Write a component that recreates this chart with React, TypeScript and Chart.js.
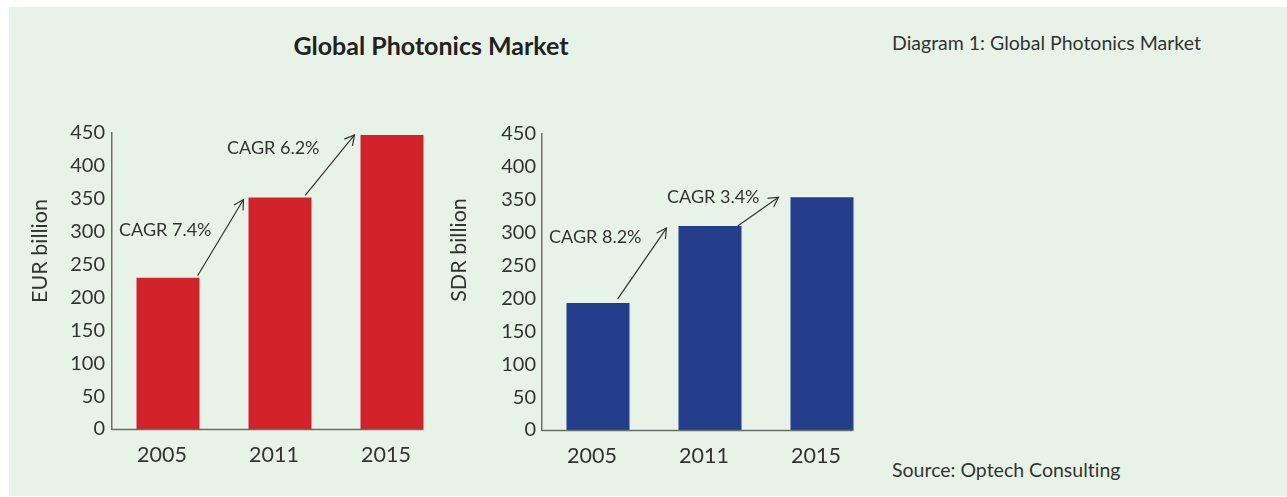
import React, { useEffect, useRef } from "react";
import { Chart, registerables } from "chart.js";

Chart.register(...registerables);

const years = ["2005", "2011", "2015"];
const eurValues = [230, 352, 447];
const sdrValues = [193, 310, 354];
const yTicks = [0, 50, 100, 150, 200, 250, 300, 350, 400, 450];
const eurCagr = ["CAGR 7.4%", "CAGR 6.2%"];
const sdrCagr = ["CAGR 8.2%", "CAGR 3.4%"];

const FONT = "Lato, 'Open Sans', sans-serif";
const TEXT = "#333333";
const AXIS = "#6d6d6d";
const BG = "#e8f3e7";

type ArrowLayout = { sf: number; sy: number; ex: number; ey: number; lx: number; ly: number };

const eurArrows: ArrowLayout[] = [
  { sf: 0.47, sy: -2, ex: -5, ey: 2, lx: -32, ly: 31 },
  { sf: 0.4, sy: -2, ex: -6, ey: 0, lx: -35, ly: 13 },
];
const sdrArrows: ArrowLayout[] = [
  { sf: 0.31, sy: -4, ex: -12, ey: 2, lx: -25, ly: 9 },
  { sf: 0.44, sy: 0, ex: -12, ey: 0, lx: -19, ly: 0 },
];

type PanelProps = {
  left: number;
  top: number;
  values: number[];
  color: string;
  yTitle: string;
  yWidth: number;
  padRight: number;
  tickPad: number;
  titleX: number;
  titleY: number;
  cagr: string[];
  arrows: ArrowLayout[];
};

function Panel(p: PanelProps) {
  const ref = useRef<HTMLCanvasElement>(null);
  useEffect(() => {
    if (!ref.current) return;
    const decor = {
      id: "decor",
      afterDatasetsDraw(chart: any) {
        const ctx = chart.ctx;
        const area = chart.chartArea;
        const bars = chart.getDatasetMeta(0).data as any[];
        const last = bars[bars.length - 1];
        ctx.save();
        ctx.strokeStyle = AXIS;
        ctx.lineWidth = 1.5;
        ctx.beginPath();
        ctx.moveTo(area.left, area.bottom + 0.5);
        ctx.lineTo(last.x + last.width / 2, area.bottom + 0.5);
        ctx.stroke();
        ctx.fillStyle = TEXT;
        ctx.font = `21.5px ${FONT}`;
        ctx.textAlign = "center";
        ctx.textBaseline = "middle";
        ctx.translate(p.titleX, p.titleY);
        ctx.rotate(-Math.PI / 2);
        ctx.fillText(p.yTitle, 0, 0);
        ctx.restore();
        ctx.save();
        ctx.strokeStyle = TEXT;
        ctx.fillStyle = TEXT;
        ctx.lineWidth = 1.2;
        p.cagr.forEach((label, i) => {
          const a = p.arrows[i];
          const b0 = bars[i];
          const b1 = bars[i + 1];
          const sx = b0.x + b0.width * a.sf;
          const sy = b0.y + a.sy;
          const ex = b1.x - b1.width / 2 + a.ex;
          const ey = b1.y + a.ey;
          ctx.beginPath();
          ctx.moveTo(sx, sy);
          ctx.lineTo(ex, ey);
          ctx.stroke();
          const ang = Math.atan2(ey - sy, ex - sx);
          const hl = 11;
          const spread = 0.5;
          ctx.beginPath();
          ctx.moveTo(ex - hl * Math.cos(ang - spread), ey - hl * Math.sin(ang - spread));
          ctx.lineTo(ex, ey);
          ctx.lineTo(ex - hl * Math.cos(ang + spread), ey - hl * Math.sin(ang + spread));
          ctx.stroke();
          ctx.font = `18px ${FONT}`;
          ctx.textAlign = "right";
          ctx.textBaseline = "middle";
          ctx.fillText(label, ex + a.lx, ey + a.ly);
        });
        ctx.restore();
      },
    };
    const chart = new Chart(ref.current, {
      type: "bar",
      data: {
        labels: years,
        datasets: [
          {
            data: p.values,
            backgroundColor: p.color,
            borderWidth: 0,
            barPercentage: 0.5625,
            categoryPercentage: 1,
          },
        ],
      },
      options: {
        responsive: false,
        animation: false,
        layout: { padding: { top: 33, left: 0, right: p.padRight, bottom: 0 } },
        plugins: { legend: { display: false }, tooltip: { enabled: false }, title: { display: false } },
        scales: {
          x: {
            grid: { display: false, drawTicks: false },
            border: { display: false },
            ticks: { color: TEXT, font: { family: FONT, size: 21.5 }, padding: 13, labelOffset: -6 },
            afterFit: (s: any) => {
              s.height = 61;
            },
          },
          y: {
            min: 0,
            max: 450,
            afterBuildTicks: (s: any) => {
              s.ticks = yTicks.map((v) => ({ value: v }));
            },
            grid: { display: false, drawTicks: false },
            border: { display: true, color: AXIS, width: 1.5 },
            ticks: { color: TEXT, font: { family: FONT, size: 20 }, padding: p.tickPad },
            afterFit: (s: any) => {
              s.width = p.yWidth;
            },
          },
        },
      },
      plugins: [decor],
    });
    return () => chart.destroy();
  }, []);
  return (
    <canvas
      ref={ref}
      width={440}
      height={390}
      style={{ position: "absolute", left: p.left, top: p.top }}
    />
  );
}

const noteStyle: React.CSSProperties = {
  position: "absolute",
  left: 892,
  fontFamily: FONT,
  fontSize: 19.5,
  lineHeight: "24px",
  color: TEXT,
  whiteSpace: "nowrap",
  fontVariantLigatures: "none",
};

export default function App() {
  return (
    <div>
      <div style={{ position: "absolute", left: 9, top: 7, width: 1278, height: 489, background: BG }} />
      <div
        style={{
          position: "absolute",
          left: 231,
          top: 30,
          width: 400,
          textAlign: "center",
          fontFamily: FONT,
          fontWeight: 700,
          fontSize: 25,
          lineHeight: "30px",
          color: "#222",
        }}
      >
        Global Photonics Market
      </div>
      <div style={{ ...noteStyle, top: 31 }}>Diagram 1: Global Photonics Market</div>
      <div style={{ ...noteStyle, top: 458 }}>Source: Optech Consulting</div>
      <Panel
        left={20}
        top={100}
        values={eurValues}
        color="#d2232a"
        yTitle="EUR billion"
        yWidth={92}
        padRight={12}
        tickPad={7}
        titleX={20}
        titleY={151}
        cagr={eurCagr}
        arrows={eurArrows}
      />
      <Panel
        left={440}
        top={101}
        values={sdrValues}
        color="#243e8b"
        yTitle="SDR billion"
        yWidth={102}
        padRight={2}
        tickPad={6}
        titleX={19}
        titleY={149}
        cagr={sdrCagr}
        arrows={sdrArrows}
      />
    </div>
  );
}
